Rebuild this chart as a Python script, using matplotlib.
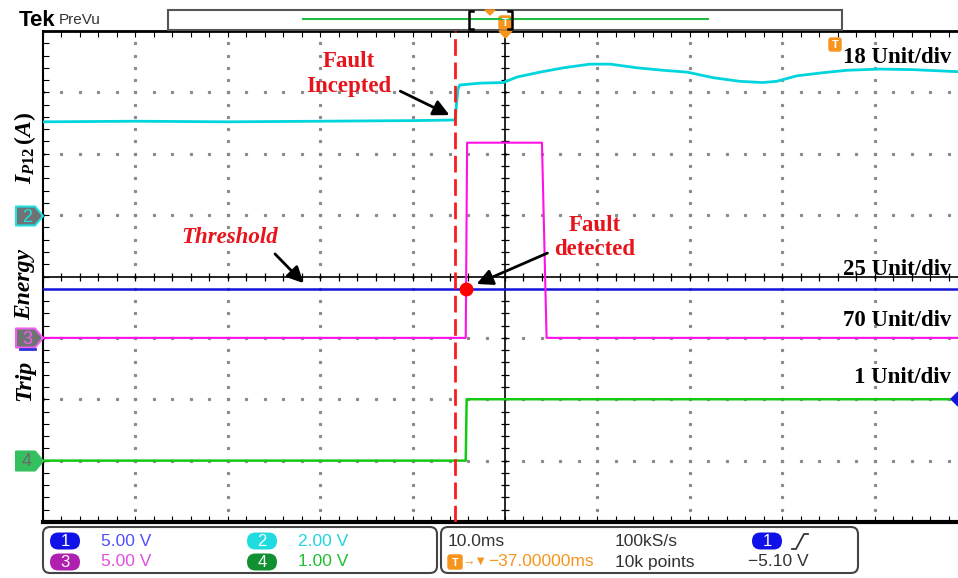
import numpy as np
import matplotlib.pyplot as plt
from matplotlib.patches import FancyBboxPatch, Polygon, Rectangle

plt.rcParams["mathtext.fontset"] = "custom"
plt.rcParams["mathtext.it"] = "Liberation Serif:italic:bold"
plt.rcParams["mathtext.rm"] = "Liberation Serif:bold"
plt.rcParams["mathtext.bf"] = "Liberation Serif:bold"

# time in ms relative to screen centre (10 ms/div), amplitude in divisions
t_ch1 = [-50, 50]
ch1 = [-0.20, -0.20]

t_ch2 = [-50, -40, -30, -20, -10, -5.4, -5.1, -4.9, -2.7, -0.2, 1.3, 3.8,
         6.3, 9.2, 11.4, 14.3, 17.1, 19.7, 22.5, 25.4, 27.9, 29.4, 31.6,
         34.4, 37.0, 40.6, 44.2, 50]
ch2 = [2.52, 2.53, 2.52, 2.53, 2.54, 2.55, 3.05, 3.12, 3.15, 3.16, 3.25,
       3.33, 3.40, 3.46, 3.46, 3.40, 3.36, 3.33, 3.24, 3.18, 3.16, 3.18,
       3.27, 3.32, 3.36, 3.38, 3.37, 3.33]

t_ch3 = [-50, -4.25, -4.1, 4.0, 4.5, 50]
ch3 = [-1.0, -1.0, 2.18, 2.18, -1.0, -1.0]

t_ch4 = [-50, -4.25, -4.15, 50]
ch4 = [-3.0, -3.0, -2.0, -2.0]

fault_time = -5.4
detect_time = -4.22
threshold_level = -0.20

unit_labels = ["18 Unit/div", "25 Unit/div", "70 Unit/div", "1 Unit/div"]
unit_label_y = [3.57, 0.12, -0.72, -1.65]

chan_ids = ["1", "2", "3", "4"]
chan_scales = ["5.00 V", "2.00 V", "5.00 V", "1.00 V"]

W, H = 958, 578
RED = "#e8141c"
ORANGE = "#f7941d"
SERIF = "Liberation Serif"
SANS = ["Liberation Sans", "DejaVu Sans"]

fig = plt.figure(figsize=(W / 100, H / 100), dpi=100)
ax = fig.add_axes([43 / W, 56 / H, 924 / W, 491 / H])
ax.set_xlim(-50, 50)
ax.set_ylim(-4, 4)

minor_x = np.arange(-50, 50.1, 2)
minor_y = np.arange(-4, 4.01, 0.2)
ax.set_xticks(minor_x)
ax.set_yticks(minor_y)
ax.tick_params(direction="in", length=4, width=0.8, top=True, bottom=True,
               left=True, right=False, labelbottom=False, labelleft=False)
ax.spines["right"].set_visible(False)
ax.spines["left"].set_linewidth(1.5)
ax.spines["top"].set_linewidth(2)
ax.spines["bottom"].set_linewidth(3)

# dotted graticule
for xm in [-40, -30, -20, -10, 10, 20, 30, 40]:
    ax.plot(np.full_like(minor_y, xm), minor_y, ls="none", marker="s",
            ms=1.3, color="#8a8a8a", zorder=1)
for ym in [-3, -2, -1, 1, 2, 3]:
    ax.plot(minor_x, np.full_like(minor_x, ym), ls="none", marker="s",
            ms=1.3, color="#8a8a8a", zorder=1)

# centre cross with ticks
ax.axhline(0, color="black", lw=1.2, zorder=1)
ax.axvline(0, color="black", lw=1.2, zorder=1)
ax.plot(minor_x, np.zeros_like(minor_x), ls="none", marker="|", ms=6,
        mew=0.9, color="black", zorder=1)
ax.plot(np.zeros_like(minor_y), minor_y, ls="none", marker="_", ms=6,
        mew=0.9, color="black", zorder=1)

# traces
ax.plot(t_ch2, ch2, color="#00d4dc", lw=2.0, zorder=3)
ax.plot(t_ch1, ch1, color="#1414dc", lw=1.8, zorder=3)
ax.plot(t_ch3, ch3, color="#ff10e8", lw=1.5, zorder=3)
ax.plot(t_ch4, ch4, color="#14c814", lw=1.8, zorder=3)

ax.axvline(fault_time, color="#ff1a1a", lw=2.0, dashes=(6.0, 2.4), zorder=4)
ax.plot(detect_time, threshold_level, "o", color="red", ms=9, zorder=6)

# annotations
text_kw = dict(color=RED, fontsize=16.5, fontweight="bold", family=SERIF,
               ha="center", va="center", linespacing=1.2, zorder=7)
arrow_kw = dict(arrowstyle="-|>", color="black", lw=2, mutation_scale=24)
ax.text(-16.9, 3.3, "Fault\nIncepted", **text_kw)
ax.annotate("", xy=(-5.74, 2.61), xytext=(-11.6, 3.04), arrowprops=arrow_kw)
ax.text(-29.8, 0.64, "Threshold", style="italic", **text_kw)
ax.annotate("", xy=(-21.6, -0.14), xytext=(-25.1, 0.40), arrowprops=arrow_kw)
ax.text(9.74, 0.64, "Fault\ndetected", **text_kw)
ax.annotate("", xy=(-3.35, -0.14), xytext=(4.87, 0.40), arrowprops=arrow_kw)

for label, yl in zip(unit_labels, unit_label_y):
    ax.text(48.3, yl, label, ha="right", va="center", fontsize=16.5,
            fontweight="bold", family=SERIF, color="black", zorder=7)

# overlay in pixel coordinates for the scope decorations
ov = fig.add_axes([0, 0, 1, 1], facecolor="none")
ov.set_xlim(0, W)
ov.set_ylim(H, 0)
ov.axis("off")

ov.text(19, 21, "Tek", fontsize=16, fontweight="bold", family=SANS,
        va="center", ha="left")
ov.text(59, 20, "PreVu", fontsize=11, family=SANS, color="#333333",
        va="center", ha="left")
ov.add_patch(Rectangle((168, 10), 674, 20, fill=False, ec="#555555", lw=1.5))
ov.plot([303, 708], [19, 19], color="#22bb44", lw=1.5)
ov.plot([473, 469, 469, 473], [11, 11, 29, 29], color="black", lw=1.8)
ov.plot([508, 512, 512, 508], [11, 11, 29, 29], color="black", lw=1.8)
ov.add_patch(Polygon([(485, 10), (495, 10), (490, 15)], color=ORANGE))


def t_badge(x, y, w=12, h=13):
    ov.add_patch(FancyBboxPatch((x, y), w, h, color=ORANGE,
                                boxstyle="round,pad=0,rounding_size=2"))
    ov.text(x + w / 2, y + h / 2 + 0.5, "T", color="white", fontsize=8,
            fontweight="bold", family=SANS, ha="center", va="center")


t_badge(499, 16)
ov.add_patch(Polygon([(499, 31), (512, 31), (505.5, 38)], color=ORANGE))
t_badge(829, 38)

# channel markers on the left edge
def chan_flag(y, label, face, edge, tc):
    pts = [(16, y - 9.5), (35, y - 9.5), (43, y), (35, y + 9.5), (16, y + 9.5)]
    ov.add_patch(Polygon(pts, fc=face, ec=edge, lw=1.5, joinstyle="round"))
    ov.text(27, y + 1, label, color=tc, fontsize=13, family=SANS,
            ha="center", va="center")


chan_flag(216, "2", "#6f7373", "#20e0e0", "#20e0e0")
chan_flag(338, "3", "#6f7373", "#f060f0", "#f060f0")
ov.plot([20, 35], [349, 349], color="#3030e0", lw=2)
chan_flag(461, "4", "#35c060", "#35c060", "#6a6a6a")
ov.add_patch(Polygon([(951, 399), (958, 392), (965, 399), (958, 406)],
                     color="#1414dc"))

# rotated axis labels
lab_kw = dict(rotation=90, fontsize=17, fontweight="bold", style="italic",
              family=SERIF, ha="center", va="center", color="black")
ov.text(25, 148, r"$I_{P12}\,(A)$", rotation=90, fontsize=17, ha="center",
        va="center", color="black")
ov.text(25, 284, "Energy", **lab_kw)
ov.text(25, 380, "Trip", **lab_kw)

# readout panels
for x0, w in [(43, 394), (441, 417)]:
    ov.add_patch(FancyBboxPatch((x0, 527), w, 46, fc="white", ec="#444444",
                                lw=1.5, boxstyle="round,pad=0,rounding_size=7"))


def oval(cx, cy, label, fc):
    ov.add_patch(FancyBboxPatch((cx - 15, cy - 8.5), 30, 17, fc=fc, ec="none",
                                boxstyle="round,pad=0,rounding_size=8.5"))
    ov.text(cx, cy + 0.5, label, color="white", fontsize=12, family=SANS,
            ha="center", va="center")


badge_fc = ["#1010e8", "#20dce0", "#b020b0", "#109030"]
scale_tc = ["#5050ff", "#20d4e0", "#e050e0", "#20c030"]
badge_xy = [(65, 541), (262, 541), (65, 562), (262, 562)]
for cid, scale, (bx, by), fc, tc in zip(chan_ids, chan_scales, badge_xy,
                                        badge_fc, scale_tc):
    oval(bx, by, cid, fc)
    ov.text(bx + 36, by, scale, color=tc, fontsize=12.5, family=SANS,
            ha="left", va="center")

ro_kw = dict(fontsize=12.5, family=SANS, ha="left", va="center")
ov.text(448, 541, "10.0ms", color="#333333", **ro_kw)
ov.text(615, 541, "100kS/s", color="#333333", **ro_kw)
oval(767, 541, "1", "#1010e8")
ov.plot([792, 796, 804, 808], [549, 549, 534, 534], color="#333333", lw=1.3)
t_badge(448, 555, w=14, h=14)
ov.text(463, 562, "\u2192\u25bc", color=ORANGE, fontsize=9, family=SANS,
        ha="left", va="center")
ov.text(488, 562, "\u221237.00000ms", color=ORANGE, **ro_kw)
ov.text(615, 562, "10k points", color="#333333", **ro_kw)
ov.text(748, 562, "\u22125.10 V", color="#333333", **ro_kw)

fig.savefig("out.png", dpi=100)
